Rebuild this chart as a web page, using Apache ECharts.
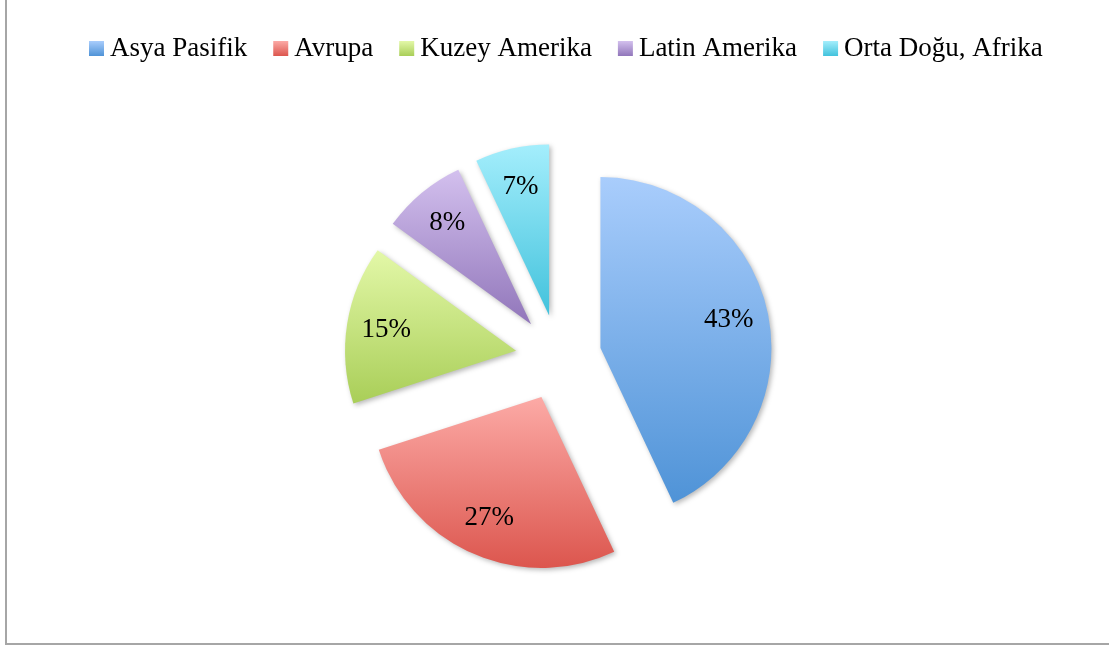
<!DOCTYPE html>
<html>
<head>
<meta charset="utf-8">
<script src="https://cdn.jsdelivr.net/npm/echarts@6/dist/echarts.min.js"></script>
<style>
  body { margin: 0; background: #fff; overflow: hidden; }
  #frame { position: absolute; left: 5px; top: -4px; width: 1120px; height: 649px; border: 2px solid #a6a6a6; box-sizing: border-box; }
  #chart { position: absolute; left: 0; top: 0; width: 1109px; height: 648px; }
</style>
</head>
<body>
<div id="frame"></div>
<div id="chart"></div>
<script>
const regions = ["Asya Pasifik", "Avrupa", "Kuzey Amerika", "Latin Amerika", "Orta Doğu, Afrika"];
const shares = [43, 27, 15, 8, 7];
const topColors = ["#a9cdfc", "#fcaaa6", "#e3f8a8", "#d3c0ee", "#a4eefc"];
const bottomColors = ["#4f93d7", "#dc564e", "#a9ce58", "#9176ba", "#42c2dc"];

const grad = (i) => new echarts.graphic.LinearGradient(0, 0, 0, 1, [
  { offset: 0, color: topColors[i] },
  { offset: 1, color: bottomColors[i] }
]);

const center = [558.5, 357.5];
const explode = 43;
const serif = "Liberation Serif";

const sliceData = regions.map((name, i) => ({
  name: name,
  value: shares[i],
  selected: true,
  itemStyle: { color: grad(i) }
}));

const labelData = regions.map((name, i) => ({
  name: name,
  value: shares[i],
  selected: true
}));

const shadow = {
  shadowBlur: 5,
  shadowOffsetX: 2,
  shadowOffsetY: 2,
  shadowColor: "rgba(0,0,0,0.28)"
};

const chart = echarts.init(document.getElementById("chart"), null, { renderer: "canvas" });
chart.setOption({
  animation: false,
  textStyle: { fontFamily: serif },
  legend: {
    top: 30,
    left: 84,
    itemWidth: 15,
    itemHeight: 15,
    itemGap: 26,
    icon: "rect",
    data: regions,
    textStyle: { fontFamily: serif, fontSize: 27, color: "#000", padding: [2, 0, 0, 1] }
  },
  series: [
    {
      type: "pie",
      center: center,
      radius: 171,
      startAngle: 90,
      clockwise: true,
      selectedMode: "multiple",
      selectedOffset: explode,
      silent: true,
      label: { show: false },
      labelLine: { show: false },
      itemStyle: shadow,
      select: { itemStyle: shadow },
      data: sliceData
    },
    {
      type: "pie",
      center: center,
      radius: [86, 171],
      startAngle: 90,
      clockwise: true,
      selectedMode: "multiple",
      selectedOffset: explode,
      silent: true,
      legendHoverLink: false,
      itemStyle: { color: "rgba(0,0,0,0)" },
      select: { itemStyle: { color: "rgba(0,0,0,0)" } },
      label: {
        show: true,
        position: "inner",
        formatter: "{c}%",
        fontFamily: serif,
        fontSize: 27,
        color: "#000"
      },
      labelLine: { show: false },
      data: labelData
    }
  ]
});
</script>
</body>
</html>
